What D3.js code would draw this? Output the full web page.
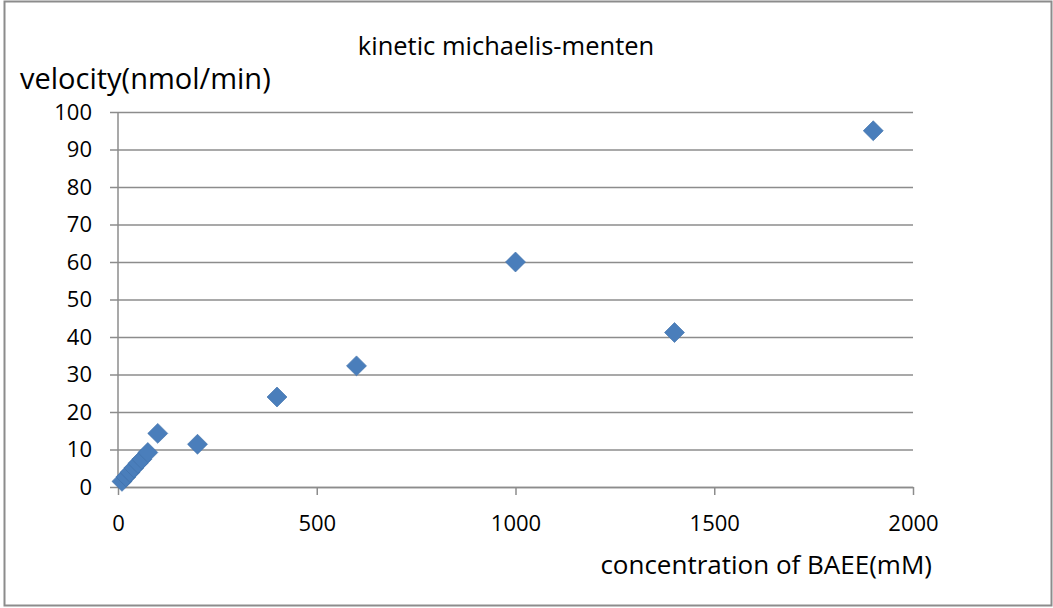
<!DOCTYPE html>
<html lang="en">
<head>
  <meta charset="UTF-8">
  <title>kinetic michaelis-menten</title>
  <script src="https://d3js.org/d3.v7.min.js"></script>
  <style>
    body { margin: 0; background: #fff; font-family: 'Open Sans', 'Liberation Sans', sans-serif; }
    svg { display: block; }
  </style>
</head>
<body>
  <div id="chart"></div>
  <script>
    // data
    const concentration = [10, 20, 30, 40, 50, 60, 75, 100, 200, 400, 600, 1000, 1400, 1900];
    const velocity = [1.5, 2.7, 3.9, 5.1, 6.3, 7.4, 9.2, 14.3, 11.4, 24, 32.3, 60, 41.2, 95];
    const xTicks = [0, 500, 1000, 1500, 2000];
    const yTicks = [0, 10, 20, 30, 40, 50, 60, 70, 80, 90, 100];

    const W = 1053, H = 608;
    const margin = { top: 112, right: 140, bottom: 121, left: 118 },
      width = W - margin.left - margin.right,
      height = H - margin.top - margin.bottom;

    const svg = d3.select("#chart").append("svg")
      .attr("width", W).attr("height", H);

    // outer frame
    svg.append("rect")
      .attr("x", 4.5).attr("y", 1.5)
      .attr("width", 1047).attr("height", 604)
      .attr("fill", "#fff").attr("stroke", "#8c8c8c").attr("stroke-width", 2);

    const g = svg.append("g").attr("transform", `translate(${margin.left},${margin.top})`);

    const x = d3.scaleLinear().domain([0, 2000]).range([0, width]);
    const y = d3.scaleLinear().domain([0, 100]).range([height, 0]);

    // gridlines with small tick to the left of the axis
    g.append("g")
      .call(d3.axisLeft(y).tickValues(yTicks).tickSize(-width).tickSizeOuter(0).tickPadding(26))
      .call(a => a.select(".domain").remove())
      .call(a => a.selectAll(".tick line").attr("x1", -8).attr("stroke", "#8c8c8c").attr("stroke-width", 1.5))
      .call(a => a.selectAll(".tick text").attr("font-size", 22).attr("fill", "#000")
        .attr("font-family", "'Open Sans', sans-serif"));

    // y axis line
    g.append("line").attr("x1", 0).attr("x2", 0).attr("y1", 0).attr("y2", height)
      .attr("stroke", "#8c8c8c").attr("stroke-width", 1.5);

    // x axis
    g.append("g")
      .attr("transform", `translate(0,${height})`)
      .call(d3.axisBottom(x).tickValues(xTicks).tickFormat(d3.format("d"))
        .tickSize(8).tickSizeOuter(0).tickPadding(20))
      .call(a => a.select(".domain").attr("stroke", "#8c8c8c").attr("stroke-width", 1.5))
      .call(a => a.selectAll(".tick line").attr("stroke", "#8c8c8c").attr("stroke-width", 1.5))
      .call(a => a.selectAll(".tick text").attr("font-size", 22).attr("fill", "#000")
        .attr("font-family", "'Open Sans', sans-serif"));

    // points (diamonds)
    const pts = concentration.map((c, i) => ({ c, v: velocity[i] }));
    g.selectAll(".pt").data(pts).enter().append("path")
      .attr("class", "pt")
      .attr("d", d3.symbol().type(d3.symbolSquare).size(200))
      .attr("transform", d => `translate(${x(d.c)},${y(d.v)}) rotate(45)`)
      .attr("fill", "#4a7ebb")
      .attr("stroke", "#3f70aa").attr("stroke-width", 0.6);

    // titles
    svg.append("text").attr("x", 506).attr("y", 55)
      .attr("text-anchor", "middle").attr("font-size", 25.5)
      .text("kinetic michaelis-menten");
    svg.append("text").attr("x", 20).attr("y", 89)
      .attr("font-size", 29)
      .text("velocity(nmol/min)");
    svg.append("text").attr("x", 932).attr("y", 574)
      .attr("text-anchor", "end").attr("font-size", 26)
      .text("concentration of BAEE(mM)");
  </script>
</body>
</html>
